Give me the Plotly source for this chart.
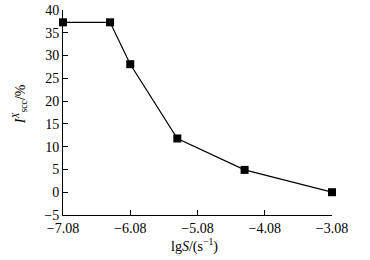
import plotly.graph_objects as go

lg_s = [-7.08, -6.38, -6.08, -5.38, -4.38, -3.08]
i_scc = [37.3, 37.3, 28.1, 11.8, 4.9, 0.0]
x_ticks = [-7.08, -6.08, -5.08, -4.08, -3.08]
x_tick_labels = ["−7.08", "−6.08", "−5.08", "−4.08", "−3.08"]
y_ticks = [-5, 0, 5, 10, 15, 20, 25, 30, 35, 40]

fig = go.Figure()
fig.add_trace(go.Scatter(
    x=lg_s, y=i_scc, mode="lines+markers",
    line=dict(color="black", width=1.2),
    marker=dict(symbol="square", size=8, color="black"),
    showlegend=False, cliponaxis=False,
))

font = dict(family="Liberation Serif, Times New Roman, serif", size=14, color="black")
fig.update_layout(
    width=370, height=260,
    margin=dict(l=63, r=38, t=10, b=45),
    paper_bgcolor="white", plot_bgcolor="white",
    font=font,
    xaxis=dict(
        range=[-7.08, -3.08], tickvals=x_ticks, ticktext=x_tick_labels,
        showline=True, linecolor="black", linewidth=1, mirror=False, automargin=False,
        ticks="inside", ticklen=5, tickcolor="black", showgrid=False, zeroline=False,
    ),
    yaxis=dict(
        range=[-5, 40], tickvals=y_ticks, automargin=False,
        showline=True, linecolor="black", linewidth=1, mirror=False,
        ticks="inside", ticklen=5, tickcolor="black", showgrid=False, zeroline=False,
    ),
    annotations=[
        dict(text="lg<i>S</i>/(s<sup>−1</sup>)", xref="paper", yref="paper",
             x=0.49, y=-0.15, xanchor="center", yanchor="middle", showarrow=False, font=font),
        dict(text="<i>I</i><sup><i>X</i></sup><sub>scc</sub>/%", xref="paper", yref="paper",
             x=-0.16, y=0.54, xanchor="center", yanchor="middle", textangle=-90, showarrow=False, font=font),
    ],
)
fig.write_html("out.html", config={"displayModeBar": False},
               post_script="document.body.style.margin='0';document.body.style.overflow='hidden';")
